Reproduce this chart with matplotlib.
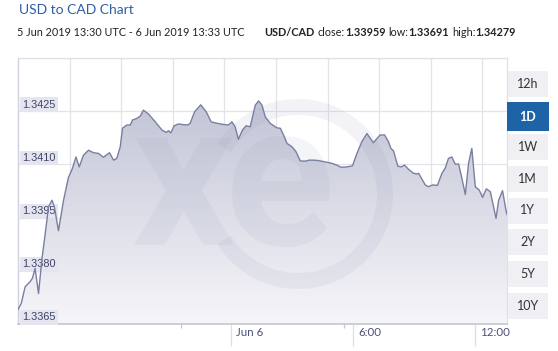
import numpy as np
import matplotlib
matplotlib.use('Agg')
import matplotlib.pyplot as plt
import matplotlib.transforms as mtransforms
from matplotlib.patches import Rectangle, Wedge

# ---------------- data (hours relative to 6 Jun 2019 00:00 UTC) ----------------
hours = [-10.50, -10.34, -10.15, -9.91, -9.79, -9.66, -9.49, -9.33, -9.16, -9.00,
         -8.83, -8.71, -8.51, -8.26, -8.02, -7.82, -7.65, -7.49, -7.28, -7.03,
         -6.79, -6.54, -6.30, -6.00, -5.80, -5.64, -5.47, -5.36, -5.15, -4.98,
         -4.87, -4.65, -4.49, -4.33, -4.08, -3.75, -3.42, -3.21, -3.10, -2.98,
         -2.82, -2.61, -2.36, -2.16, -2.03, -1.82, -1.51, -1.24, -1.00, -0.72,
         -0.44, -0.15, 0.02, 0.18, 0.34, 0.54, 0.72, 0.92, 1.17, 1.33,
         1.50, 1.66, 1.90, 2.23, 2.40, 2.56, 2.73, 2.97, 3.17, 3.38,
         3.63, 3.82, 4.03, 4.25, 4.61, 4.94, 5.18, 5.38, 5.68, 5.95,
         6.17, 6.41, 6.66, 6.98, 7.23, 7.31, 7.53, 7.72, 7.84, 7.97,
         8.18, 8.35, 8.51, 8.71, 8.95, 9.12, 9.20, 9.53, 9.69, 9.89,
         10.13, 10.35, 10.51, 10.67, 10.84, 11.00, 11.17, 11.33, 11.50, 11.66,
         11.82, 11.99, 12.18, 12.35, 12.53, 12.73, 13.01, 13.14, 13.33, 13.50,
         13.55]
rates = [1.33691, 1.33708, 1.33755, 1.33769, 1.33779, 1.33807, 1.33736, 1.33830, 1.33905, 1.33980,
         1.33999, 1.33980, 1.33913, 1.33999, 1.34063, 1.34089, 1.34121, 1.34093, 1.34126, 1.34140,
         1.34133, 1.34131, 1.34120, 1.34133, 1.34112, 1.34117, 1.34150, 1.34202, 1.34211, 1.34211,
         1.34225, 1.34230, 1.34236, 1.34253, 1.34242, 1.34220, 1.34197, 1.34190, 1.34195, 1.34189,
         1.34209, 1.34214, 1.34212, 1.34211, 1.34216, 1.34248, 1.34268, 1.34248, 1.34220, 1.34216,
         1.34213, 1.34211, 1.34220, 1.34206, 1.34171, 1.34197, 1.34209, 1.34206, 1.34267, 1.34279,
         1.34267, 1.34234, 1.34216, 1.34203, 1.34202, 1.34183, 1.34159, 1.34150, 1.34136, 1.34110,
         1.34109, 1.34112, 1.34112, 1.34111, 1.34107, 1.34103, 1.34098, 1.34092, 1.34093, 1.34096,
         1.34131, 1.34164, 1.34187, 1.34161, 1.34178, 1.34183, 1.34183, 1.34164, 1.34145, 1.34138,
         1.34095, 1.34093, 1.34098, 1.34086, 1.34075, 1.34073, 1.34075, 1.34042, 1.34037, 1.34042,
         1.34041, 1.34075, 1.34089, 1.34117, 1.34121, 1.34101, 1.34101, 1.34061, 1.34015, 1.34103,
         1.34145, 1.34037, 1.34028, 1.34007, 1.34031, 1.34023, 1.33948, 1.33999, 1.34026, 1.33971,
         1.33959]

y_ticks = [1.3365, 1.3380, 1.3395, 1.3410, 1.3425]
y_tick_labels = ['1.3365', '1.3380', '1.3395', '1.3410', '1.3425']
x_ticks = [0, 6, 12]
x_tick_labels = ['Jun 6', '6:00', '12:00']
x_minor_ticks = [-2.47, 5.54]
ranges = ['12h', '1D', '1W', '1M', '1Y', '2Y', '5Y', '10Y']
selected_range = '1D'
title = 'USD to CAD Chart'
subtitle_parts = [('5 Jun 2019 13:30 UTC - 6 Jun 2019 13:33 UTC', False, 20),
                  ('USD/CAD', True, 3), ('close:', False, 0), ('1.33959', True, 3),
                  ('low:', False, 0), ('1.33691', True, 3), ('high:', False, 0),
                  ('1.34279', True, 0)]

# ---------------- figure ----------------
W, H = 558, 351
fig = plt.figure(figsize=(W / 100, H / 100), dpi=100)
fig.patch.set_facecolor('white')
UI = 'Lato'

L, R, T, B = 18, 507, 58, 324
ax = fig.add_axes([L / W, (H - B) / H, (R - L) / W, (B - T) / H])
xmin, xmax = -10.5, 13.55
ymin, ymax = 1.3365, 1.3440
ax.set_xlim(xmin, xmax)
ax.set_ylim(ymin, ymax)
ax.set_facecolor('white')

grid_c = '#e3e3ea'
for yv in y_ticks[1:] + [ymax]:
    ax.axhline(yv, color=grid_c, lw=0.9, zorder=0.5)
step = 51.6 / (R - L)
for k in range(1, 10):
    ax.plot([k * step, k * step], [0, 1], transform=ax.transAxes, color=grid_c,
            lw=0.9, zorder=0.5)

# gradient area fill
poly = ax.fill_between(hours, rates, ymin, facecolor='none', edgecolor='none')
top_c = np.array([184, 187, 207]) / 255
bot_c = np.array([246, 246, 249]) / 255
g = np.linspace(0, 1, 256)[:, None]
grad = (bot_c[None, None, :] * (1 - g[:, :, None]) + top_c[None, None, :] * g[:, :, None])
im = ax.imshow(grad, extent=[xmin, xmax, ymin, ymax], aspect='auto', origin='lower',
               zorder=1, interpolation='bilinear')
im.set_clip_path(poly.get_paths()[0], transform=ax.transData)
ax.set_xlim(xmin, xmax)
ax.set_ylim(ymin, ymax)

# watermark (xe logo)
wm_c = (0.55, 0.57, 0.70)
ring = Wedge((2.98, (H - 194) / 100), 0.95, -148, 148, width=0.16,
             transform=fig.dpi_scale_trans, facecolor=wm_c, alpha=0.10,
             edgecolor='none', zorder=2)
ax.add_artist(ring)
for ch, cx in (('x', 1.83), ('e', 2.80)):
    ax.text(cx, (H - 245) / 100, ch, transform=fig.dpi_scale_trans, fontsize=146,
            family='Roboto', fontweight='bold', color=wm_c, alpha=0.09,
            ha='center', va='baseline', zorder=2)

# line
ax.plot(hours, rates, color='#7a7fa1', lw=1.0, zorder=4)

# spines
for s in ('top', 'right'):
    ax.spines[s].set_color('#e0e0e8')
    ax.spines[s].set_linewidth(0.9)
ax.spines['left'].set_color('#cfd0dc')
ax.spines['bottom'].set_color('#c4c6d4')
ax.spines['left'].set_linewidth(1.0)
ax.spines['bottom'].set_linewidth(1.2)

# y labels
ax.set_yticks([])
for yv, lab in zip(y_ticks, y_tick_labels):
    tr = mtransforms.offset_copy(ax.transData, fig=fig, x=4.3, y=6.5, units='dots')
    ax.text(xmin, yv, lab, transform=tr, fontsize=7.8, family='Liberation Sans',
            color='#3e4466', ha='left', va='center', zorder=3,
            bbox=dict(boxstyle='square,pad=0.22', fc='#e4e5ef', ec='none'))

# x ticks
ax.set_xticks(x_ticks)
ax.set_xticklabels([])
ax.set_xticks(x_minor_ticks, minor=True)
ax.tick_params(axis='x', which='major', length=16, width=0.9, color='#dcdde5', direction='out')
ax.tick_params(axis='x', which='minor', length=3, width=0.9, color='#c4c6d4', direction='out')
for xv, lab in zip(x_ticks, x_tick_labels):
    tr = mtransforms.blended_transform_factory(ax.transData, ax.transAxes)
    tr = tr + mtransforms.ScaledTranslation(4.5 / 100, -9 / 100, fig.dpi_scale_trans)
    ax.text(xv, 0, lab, transform=tr, fontsize=8.3, family=UI, color='#4b5078',
            ha='left', va='center', clip_on=False)

# range buttons
bx0, bw = 508, 39.5
for i, lab in enumerate(ranges):
    y0 = 70.7 + i * 31.7
    sel = lab == selected_range
    if sel:
        rect = Rectangle(((bx0 - 1.2) / W, (H - (y0 + 28.5)) / H), (bw + 2.2) / W, 28.5 / H,
                         transform=fig.transFigure, facecolor='#1f63a7', edgecolor='none')
    else:
        rect = Rectangle((bx0 / W, (H - (y0 + 26)) / H), bw / W, 26 / H,
                         transform=fig.transFigure, facecolor='#efeff4', edgecolor='none')
    fig.add_artist(rect)
    cy = y0 + (14.2 if sel else 13)
    fig.text((bx0 + bw / 2) / W, 1 - cy / H, lab, fontsize=9, family=UI,
             color='white' if sel else '#333333', fontweight='bold' if sel else 'normal',
             ha='center', va='center')

# title and subtitle
fig.text(19 / W, 1 - 9.5 / H, title, fontsize=10, family=UI, color='#2e5ea6',
         ha='left', va='center')
renderer = fig.canvas.get_renderer()
xpos = 17.0
for txt, bold, gap in subtitle_parts:
    t = fig.text(xpos / W, 1 - 32.5 / H, txt, fontsize=7.85, family=UI, color='#222222',
                 fontweight='bold' if bold else 'normal', ha='left', va='center')
    bb = t.get_window_extent(renderer)
    xpos += bb.width + gap

fig.savefig('out.png', dpi=100, facecolor='white')
